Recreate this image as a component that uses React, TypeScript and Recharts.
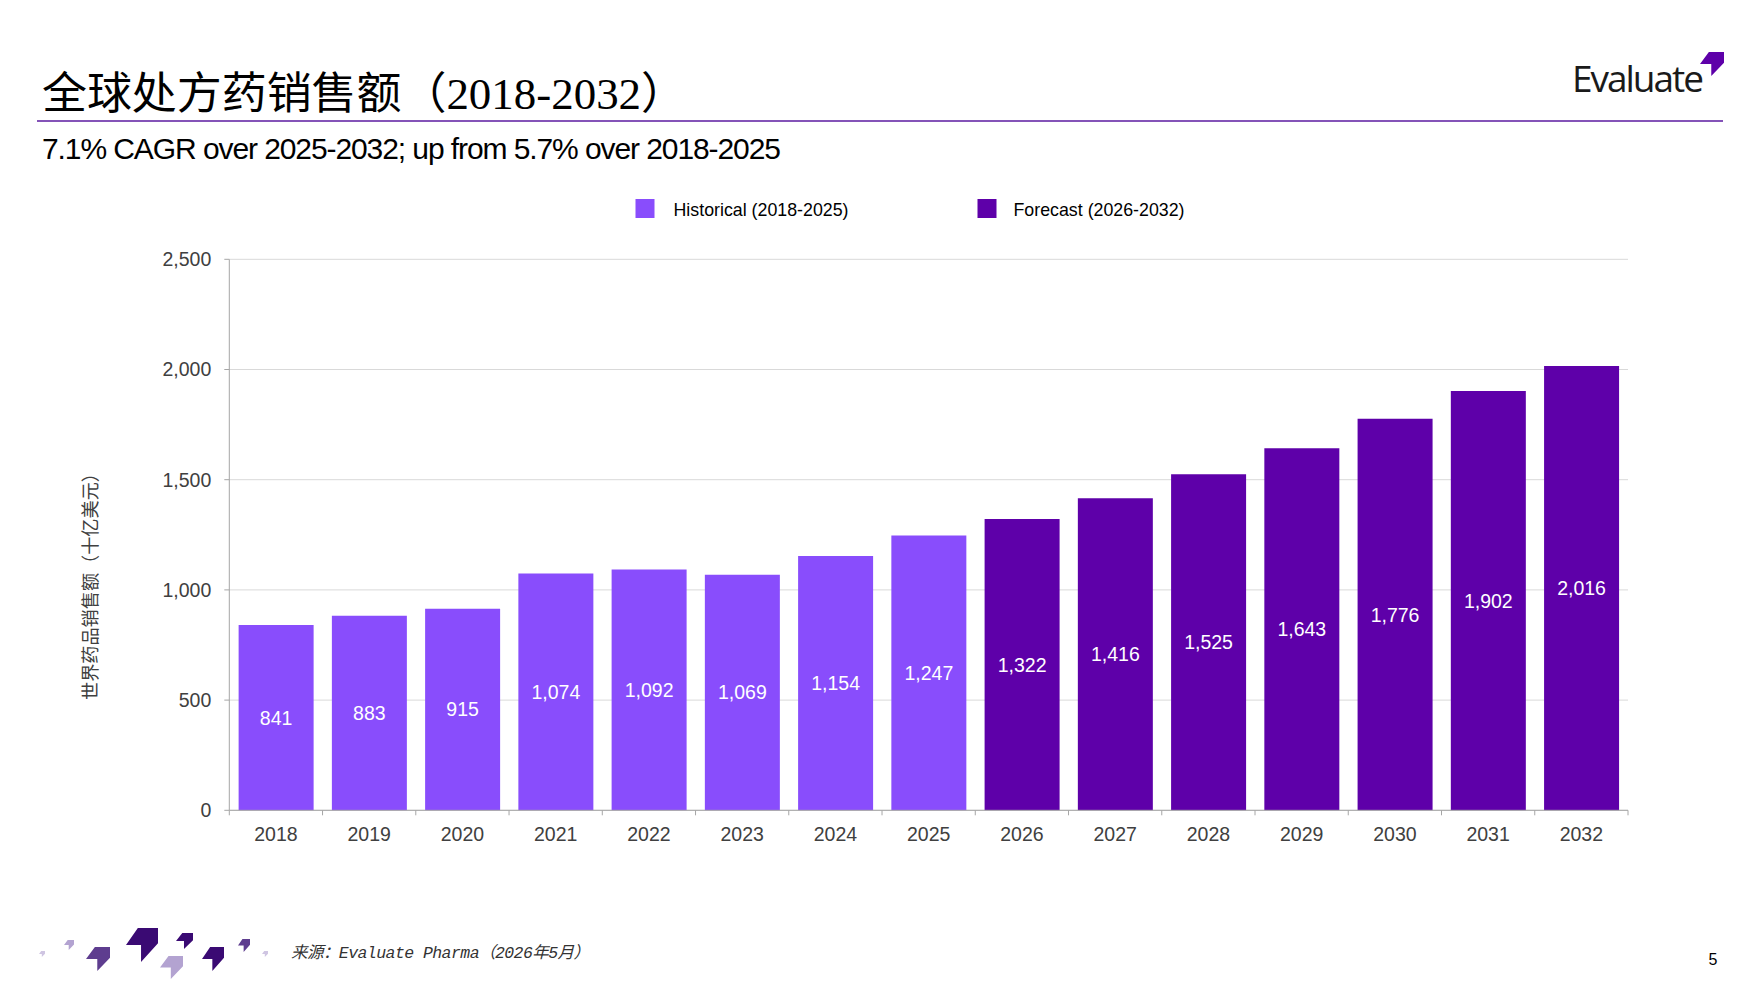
import { BarChart, Bar, XAxis, YAxis, CartesianGrid, LabelList } from "recharts";

// years on the x axis
const years = ["2018", "2019", "2020", "2021", "2022", "2023", "2024", "2025", "2026", "2027", "2028", "2029", "2030", "2031", "2032"];

// global Rx sales, $bn
const historical = [841, 883, 915, 1074, 1092, 1069, 1154, 1247, null, null, null, null, null, null, null];
const forecast = [null, null, null, null, null, null, null, null, 1322, 1416, 1525, 1643, 1776, 1902, 2016];

const yTicks = [0, 500, 1000, 1500, 2000, 2500];

const seriesNames = ["Historical (2018-2025)", "Forecast (2026-2032)"];

const HIST_COLOR = "#894dfc";
const FCST_COLOR = "#5e00a9";
const AXIS = "#a6a6a6";
const GRID = "#d9d9d9";
const TICK = "#404040";
const FONT = "'Liberation Sans', Arial, sans-serif";
const CJK = "'Noto Sans CJK SC', sans-serif";

const data = years.map((year, i) => ({
  year,
  historical: historical[i],
  forecast: forecast[i],
}));

const fmt = (v: any) => (v == null ? "" : Number(v).toLocaleString("en-US"));

// year label plus tick marks at the band edges
const YearTick = (props: any) => {
  const { x, y, payload, width, visibleTicksCount, index } = props;
  const band = width && visibleTicksCount ? width / visibleTicksCount : 0;
  return (
    <g>
      {band > 0 && <line x1={x - band / 2} x2={x - band / 2} y1={y} y2={y + 5} stroke={AXIS} />}
      {band > 0 && index === visibleTicksCount - 1 && (
        <line x1={x + band / 2} x2={x + band / 2} y1={y} y2={y + 5} stroke={AXIS} />
      )}
      <text x={x} y={y + 31} textAnchor="middle" fill={TICK} fontSize={19.5} fontFamily={FONT}>
        {payload.value}
      </text>
    </g>
  );
};

// little arrow shape used in the logo and footer
const arrowPts = (x: number, y: number, w: number, h: number) =>
  [
    [0.37, 0],
    [1, 0],
    [1, 0.45],
    [0.47, 1],
    [0.47, 0.5],
    [0, 0.5],
  ]
    .map(([px, py]) => `${x + px * w},${y + py * h}`)
    .join(" ");

const footerArrows = [
  { x: 39, y: 951, w: 6, h: 6, c: "#cfc5e2" },
  { x: 64, y: 940, w: 10, h: 10, c: "#b3a3d1" },
  { x: 86, y: 947, w: 24, h: 24, c: "#5e3d8f" },
  { x: 126, y: 928, w: 32, h: 34, c: "#3a0a73" },
  { x: 176, y: 933, w: 17, h: 16, c: "#3a0a73" },
  { x: 160, y: 956, w: 23, h: 23, c: "#b3a3d1" },
  { x: 202, y: 947, w: 22, h: 24, c: "#3a0a73" },
  { x: 238, y: 939, w: 12, h: 13, c: "#5e3d8f" },
  { x: 262, y: 951, w: 6, h: 6, c: "#cfc5e2" },
];

const App = () => {
  return (
    <div style={{ position: "absolute", left: 0, top: 0, width: 1760, height: 990, background: "#fff", overflow: "hidden" }}>
      <BarChart
        width={1760}
        height={990}
        data={data}
        margin={{ top: 259.3, right: 132, bottom: 119.7, left: 149.3 }}
        barCategoryGap="10%"
      >
        <CartesianGrid vertical={false} stroke={GRID} />
        <XAxis
          dataKey="year"
          interval={0}
          height={60}
          tickLine={false}
          tickSize={0}
          tickMargin={0}
          axisLine={{ stroke: AXIS }}
          tick={<YearTick />}
        />
        <YAxis
          width={80}
          domain={[0, 2500]}
          ticks={yTicks}
          tickFormatter={fmt}
          tickSize={5}
          tickMargin={13}
          axisLine={{ stroke: AXIS }}
          tickLine={{ stroke: AXIS }}
          tick={{ fill: TICK, fontSize: 19.5, fontFamily: FONT }}
        />
        <Bar dataKey="historical" name={seriesNames[0]} stackId="a" fill={HIST_COLOR} isAnimationActive={false}>
          <LabelList dataKey="historical" position="center" formatter={fmt} fill="#ffffff" fontSize={19.5} fontFamily={FONT} />
        </Bar>
        <Bar dataKey="forecast" name={seriesNames[1]} stackId="a" fill={FCST_COLOR} isAnimationActive={false}>
          <LabelList dataKey="forecast" position="center" formatter={fmt} fill="#ffffff" fontSize={19.5} fontFamily={FONT} />
        </Bar>
      </BarChart>

      <svg width={1760} height={990} style={{ position: "absolute", left: 0, top: 0, pointerEvents: "none" }}>
        {/* title block */}
        <text
          x={42}
          y={109}
          fontSize={44}
          fill="#000"
          fontFamily={`'Liberation Serif', ${CJK}`}
          textLength={644}
          lengthAdjust="spacingAndGlyphs"
        >
          全球处方药销售额（2018-2032）
        </text>
        <line x1={37} x2={1723} y1={121} y2={121} stroke="#5b1aa0" strokeWidth={1.5} />
        <text x={42} y={159} fontSize={30} letterSpacing={-1} fill="#000" fontFamily={FONT} textLength={738}>
          7.1% CAGR over 2025-2032; up from 5.7% over 2018-2025
        </text>

        {/* logo */}
        <text x={1572} y={92} fontSize={37} fill="#1a1a1a" fontFamily="'Open Sans', sans-serif" textLength={132}>
          Evaluate
        </text>
        <polygon points={arrowPts(1700, 52, 24, 24)} fill="#5e00a9" />

        {/* legend */}
        <rect x={635.5} y={199} width={19} height={19} fill={HIST_COLOR} />
        <text x={673.5} y={215.5} fontSize={17.8} fill="#000" fontFamily={FONT} textLength={175}>
          {seriesNames[0]}
        </text>
        <rect x={977.5} y={199} width={19} height={19} fill={FCST_COLOR} />
        <text x={1013.5} y={215.5} fontSize={17.8} fill="#000" fontFamily={FONT} textLength={171}>
          {seriesNames[1]}
        </text>

        {/* y axis title */}
        <text
          x={89}
          y={582}
          transform="rotate(-90 89 582)"
          textAnchor="middle"
          dominantBaseline="central"
          fontSize={18.5}
          fill={TICK}
          fontFamily={CJK}
          textLength={236}
          lengthAdjust="spacingAndGlyphs"
        >
          世界药品销售额（十亿美元）
        </text>

        {/* footer */}
        {footerArrows.map((a, i) => (
          <polygon key={i} points={arrowPts(a.x, a.y, a.w, a.h)} fill={a.c} />
        ))}
        <text x={291} y={958} fontSize={16.5} fontStyle="italic" fill="#333" fontFamily={`'Liberation Mono', ${CJK}`} textLength={299}>
          来源：Evaluate Pharma（2026年5月）
        </text>
        <text x={1713} y={965} fontSize={16} textAnchor="middle" fill="#000" fontFamily={FONT}>
          5
        </text>
      </svg>
    </div>
  );
};

export default App;
